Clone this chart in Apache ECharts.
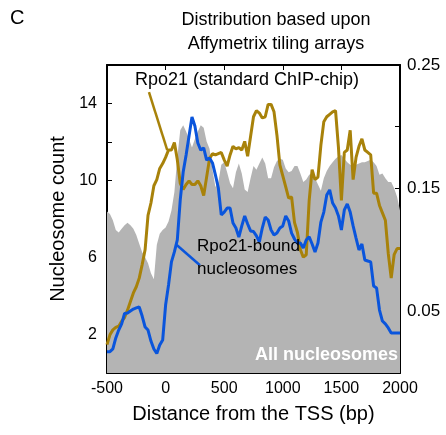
<!DOCTYPE html>
<html>
<head>
<meta charset="utf-8">
<script src="https://cdn.jsdelivr.net/npm/echarts@6/dist/echarts.min.js"></script>
<style>
  html, body { margin: 0; padding: 0; background: #fff; }
  #main { width: 446px; height: 435px; }
</style>
</head>
<body>
<div id="main"></div>
<script>
// distance from TSS (bp), every 25 bp
var positions = [-500, -475, -450, -425, -400, -375, -350, -325, -300, -275,
  -250, -225, -200, -175, -150, -125, -100, -75, -50, -25,
  0, 25, 50, 75, 100, 125, 150, 175, 200, 225,
  250, 275, 300, 325, 350, 375, 400, 425, 450, 475,
  500, 525, 550, 575, 600, 625, 650, 675, 700, 725,
  750, 775, 800, 825, 850, 875, 900, 925, 950, 975,
  1000, 1025, 1050, 1075, 1100, 1125, 1150, 1175, 1200, 1225,
  1250, 1275, 1300, 1325, 1350, 1375, 1400, 1425, 1450, 1475,
  1500, 1525, 1550, 1575, 1600, 1625, 1650, 1675, 1700, 1725,
  1750, 1775, 1800, 1825, 1850, 1875, 1900, 1925, 1950, 1975, 2000];

// All nucleosomes (grey area, right axis)
var allNucleosomes = [0.131, 0.129, 0.124, 0.116, 0.114, 0.117, 0.120, 0.122, 0.120, 0.117,
  0.112, 0.105, 0.098, 0.094, 0.089, 0.081, 0.076, 0.104, 0.113, 0.116,
  0.118, 0.123, 0.132, 0.147, 0.175, 0.197, 0.201, 0.196, 0.190, 0.183,
  0.190, 0.196, 0.201, 0.199, 0.188, 0.182, 0.165, 0.151, 0.155, 0.169,
  0.171, 0.163, 0.154, 0.150, 0.163, 0.170, 0.162, 0.149, 0.147, 0.158,
  0.168, 0.165, 0.170, 0.175, 0.170, 0.158, 0.158, 0.167, 0.172, 0.174,
  0.173, 0.166, 0.163, 0.164, 0.168, 0.168, 0.162, 0.155, 0.157, 0.161,
  0.162, 0.158, 0.153, 0.148, 0.158, 0.164, 0.168, 0.171, 0.174, 0.176,
  0.177, 0.174, 0.171, 0.169, 0.168, 0.169, 0.170, 0.171, 0.171, 0.172,
  0.173, 0.171, 0.168, 0.161, 0.162, 0.158, 0.155, 0.155, 0.150, 0.143, 0.132];

// Rpo21 standard ChIP-chip (gold line, right axis)
var rpo21Chip = [0.023, 0.031, 0.035, 0.037, 0.038, 0.042, 0.045, 0.051, 0.058, 0.065,
  0.070, 0.077, 0.088, 0.100, 0.128, 0.138, 0.152, 0.157, 0.166, 0.170,
  0.175, 0.181, 0.181, 0.187, 0.173, 0.154, 0.149, 0.153, 0.156, 0.153,
  0.153, 0.156, 0.152, 0.144, 0.159, 0.174, 0.178, 0.177, 0.178, 0.179,
  0.173, 0.168, 0.177, 0.184, 0.182, 0.183, 0.181, 0.188, 0.176, 0.192,
  0.208, 0.213, 0.211, 0.207, 0.208, 0.218, 0.218, 0.212, 0.193, 0.169,
  0.160, 0.151, 0.142, 0.143, 0.122, 0.114, 0.100, 0.094, 0.096, 0.140,
  0.165, 0.157, 0.159, 0.185, 0.204, 0.208, 0.210, 0.212, 0.213, 0.183,
  0.140, 0.179, 0.181, 0.197, 0.157, 0.175, 0.184, 0.190, 0.181, 0.179,
  0.177, 0.146, 0.146, 0.136, 0.130, 0.124, 0.097, 0.077, 0.096, 0.101, 0.101];

// Rpo21-bound nucleosomes (blue line, left axis)
var rpo21Bound = [1.11, 1.11, 1.25, 1.82, 2.23, 2.55, 3.09, 3.12, 3.22, 3.32,
  3.38, 3.43, 2.96, 2.39, 2.23, 1.66, 1.25, 1.01, 1.45, 1.71,
  3.53, 4.57, 5.77, 6.29, 6.91, 8.99, 10.44, 11.32, 12.31, 13.30,
  12.83, 11.95, 11.58, 11.69, 11.06, 11.17, 10.91, 10.29, 9.61, 8.21,
  8.36, 8.57, 8.57, 7.79, 7.53, 7.06, 7.64, 8.16, 7.74, 7.38,
  7.35, 7.12, 6.81, 7.53, 8.10, 7.95, 7.43, 7.17, 7.27, 7.53,
  7.64, 8.16, 7.90, 7.27, 6.96, 6.75, 6.75, 6.49, 6.91, 7.08,
  6.70, 6.29, 6.75, 7.84, 8.36, 9.25, 9.51, 8.83, 8.57, 8.16,
  7.43, 8.47, 8.78, 8.36, 7.64, 7.01, 6.39, 6.70, 5.87, 5.82,
  5.77, 4.52, 4.42, 3.27, 2.70, 2.55, 2.34, 2.08, 2.08, 2.08, 2.08];

var leftLabels = [2, 6, 10, 14];
var rightLabels = ['0.05', '0.15', '0.25'];

function pairs(ys) {
    return positions.map(function (x, i) { return [x, ys[i]]; });
}

var FONT = 'Liberation Sans, Arial, sans-serif';
var GOLD = '#a8820a';
var BLUE = '#0a55dc';

var myChart = echarts.init(document.getElementById('main'));

var option = {
    backgroundColor: '#fff',
    animation: false,
    textStyle: { fontFamily: FONT },
    grid: { left: 107, right: 46, top: 65, bottom: 62 },
    xAxis: [
        {
            type: 'value',
            min: -500,
            max: 2000,
            interval: 500,
            position: 'bottom',
            name: 'Distance from the TSS (bp)',
            nameLocation: 'middle',
            nameGap: 31,
            nameTextStyle: { fontSize: 20, color: '#000', fontFamily: FONT },
            axisLine: { onZero: false, lineStyle: { color: '#000', width: 2 } },
            axisTick: { inside: true, length: 5, lineStyle: { color: '#000' } },
            axisLabel: { fontSize: 16, color: '#000', margin: 8, fontFamily: FONT,
                formatter: function (v) { return String(v); } },
            splitLine: { show: false }
        },
        {
            type: 'value',
            min: -500,
            max: 2000,
            interval: 500,
            position: 'top',
            axisLine: { onZero: false, lineStyle: { color: '#000', width: 2 } },
            axisTick: { inside: true, length: 5, lineStyle: { color: '#000' } },
            axisLabel: { show: false },
            splitLine: { show: false }
        }
    ],
    yAxis: [
        {
            type: 'value',
            min: 0,
            max: 16,
            interval: 2,
            position: 'left',
            name: 'Nucleosome count',
            nameLocation: 'middle',
            nameGap: 33,
            nameTextStyle: { fontSize: 20, color: '#000', fontFamily: FONT },
            axisLine: { show: true, onZero: false, lineStyle: { color: '#000', width: 2 } },
            axisTick: { inside: true, length: 5, lineStyle: { color: '#000' } },
            axisLabel: {
                fontSize: 16, color: '#000', margin: 10, fontFamily: FONT,
                formatter: function (v) {
                    return leftLabels.indexOf(Math.round(v)) >= 0 ? String(Math.round(v)) : '';
                }
            },
            splitLine: { show: false }
        },
        {
            type: 'value',
            min: 0,
            max: 0.25,
            interval: 0.05,
            position: 'right',
            axisLine: { show: true, onZero: false, lineStyle: { color: '#000', width: 2 } },
            axisTick: { inside: true, length: 5, lineStyle: { color: '#000' } },
            axisLabel: {
                fontSize: 17, color: '#000', margin: 7, fontFamily: FONT,
                formatter: function (v) {
                    var s = (Math.round(v * 100) / 100).toFixed(2);
                    return rightLabels.indexOf(s) >= 0 ? s : '';
                }
            },
            splitLine: { show: false }
        }
    ],
    series: [
        {
            name: 'All nucleosomes',
            type: 'line',
            yAxisIndex: 1,
            data: pairs(allNucleosomes),
            symbol: 'none',
            lineStyle: { width: 0 },
            areaStyle: { color: '#b4b4b4', opacity: 1 },
            z: 1
        },
        {
            name: 'Rpo21 (standard ChIP-chip)',
            type: 'line',
            yAxisIndex: 1,
            data: pairs(rpo21Chip),
            symbol: 'none',
            lineStyle: { color: GOLD, width: 3 },
            markLine: {
                silent: true,
                symbol: 'none',
                label: { show: false },
                lineStyle: { color: GOLD, width: 2.5, type: 'solid' },
                data: [[{ coord: [-142, 0.228] }, { coord: [14, 0.181] }]]
            },
            z: 3
        },
        {
            name: 'Rpo21-bound nucleosomes',
            type: 'line',
            yAxisIndex: 0,
            data: pairs(rpo21Bound),
            symbol: 'none',
            lineStyle: { color: BLUE, width: 3 },
            markLine: {
                silent: true,
                symbol: 'none',
                label: { show: false },
                lineStyle: { color: BLUE, width: 2.5, type: 'solid' },
                data: [[{ coord: [95, 6.65] }, { coord: [293, 5.6] }]]
            },
            z: 4
        }
    ],
    graphic: [
        { type: 'text', x: 10, y: 18, style: { text: 'C', fontSize: 20, fontFamily: FONT, fill: '#000', verticalAlign: 'middle' } },
        { type: 'text', x: 276, y: 20, style: { text: 'Distribution based upon', fontSize: 18, fontFamily: FONT, fill: '#000', align: 'center', verticalAlign: 'middle' } },
        { type: 'text', x: 276, y: 44, style: { text: 'Affymetrix tiling arrays', fontSize: 18, fontFamily: FONT, fill: '#000', align: 'center', verticalAlign: 'middle' } },
        { type: 'text', x: 135, y: 80, style: { text: 'Rpo21 (standard ChIP-chip)', fontSize: 18, fontFamily: FONT, fill: '#000', verticalAlign: 'middle' }, z: 10 },
        { type: 'text', x: 197, y: 246, style: { text: 'Rpo21-bound', fontSize: 17, fontFamily: FONT, fill: '#000', verticalAlign: 'middle' }, z: 10 },
        { type: 'text', x: 197, y: 269, style: { text: 'nucleosomes', fontSize: 17, fontFamily: FONT, fill: '#000', verticalAlign: 'middle' }, z: 10 },
        { type: 'text', x: 255, y: 355, style: { text: 'All nucleosomes', fontSize: 18, fontWeight: 'bold', fontFamily: FONT, fill: '#fff', verticalAlign: 'middle' }, z: 10 }
    ]
};

myChart.setOption(option);
</script>
</body>
</html>
